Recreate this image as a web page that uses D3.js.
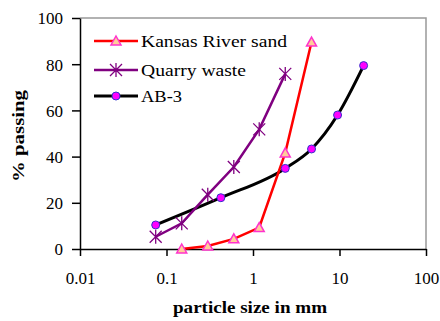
<!DOCTYPE html>
<html><head><meta charset="utf-8">
<script src="https://cdn.jsdelivr.net/npm/d3@7"></script>
<style>body{margin:0;background:#fff}svg{display:block}</style>
</head><body>
<svg id="c" width="440" height="321"></svg>
<script>
const xTicks = [0.01, 0.1, 1, 10, 100];
const xTickLabels = ["0.01", "0.1", "1", "10", "100"];
const yTicks = [0, 20, 40, 60, 80, 100];
const seriesNames = ["Kansas River sand", "Quarry waste", "AB-3"];
const sandSize = [0.15, 0.3, 0.6, 1.18, 2.36, 4.75];
const sandPass = [0, 1.3, 4.4, 9.3, 41.6, 89.6];
const quarrySize = [0.075, 0.15, 0.3, 0.6, 1.18, 2.36];
const quarryPass = [5.3, 11.1, 23.5, 35.5, 51.8, 75.8];
const ab3Size = [0.075, 0.425, 2.36, 4.75, 9.5, 19];
const ab3Pass = [10.4, 22.2, 34.9, 43.3, 58, 79.4];

const FONT = '"Liberation Serif"';
const svg = d3.select("#c");
const x = d3.scaleLog().domain([0.01, 100]).range([80, 426]);
const y = d3.scaleLinear().domain([0, 100]).range([249, 18]);

svg.append("path").attr("d", `M${x(0.01)},${y(100)}H${x(100)}V${y(0)}`)
  .attr("fill","none").attr("stroke","#999").attr("stroke-width",1.5);

const xAxis = svg.append("g").attr("transform",`translate(0,${y(0)})`)
  .call(d3.axisBottom(x).tickValues(xTicks).tickFormat((d,i)=>xTickLabels[i]).tickSize(7).tickSizeOuter(0));
const yAxis = svg.append("g").attr("transform",`translate(${x(0.01)},0)`)
  .call(d3.axisLeft(y).tickValues(yTicks).tickSize(8).tickSizeOuter(0));
[xAxis,yAxis].forEach(a=>{
  a.attr("font-family",null);
  a.select(".domain").attr("stroke","#000").attr("stroke-width",1.5);
  a.selectAll(".tick line").attr("stroke","#000").attr("stroke-width",1.5);
  a.selectAll("text").style("font-family",FONT).style("font-size","17px").attr("fill","#000");
});
xAxis.selectAll("text").attr("dy","0").attr("y",35);
yAxis.selectAll("text").attr("x",-17).attr("dy","0.35em");

svg.append("text").attr("x",250).attr("y",313).attr("text-anchor","middle")
  .style("font-family",FONT).style("font-weight","bold").style("font-size","16px")
  .attr("textLength",154).attr("lengthAdjust","spacingAndGlyphs").text("particle size in mm");
svg.append("text").attr("transform","translate(24,136) rotate(-90)").attr("text-anchor","middle")
  .style("font-family",FONT).style("font-weight","bold").style("font-size","16px")
  .attr("textLength",92).attr("lengthAdjust","spacingAndGlyphs").text("% passing");

const line = d3.line().x(d=>x(d[0])).y(d=>y(d[1]));
const smooth = d3.line().x(d=>x(d[0])).y(d=>y(d[1])).curve(d3.curveMonotoneX);
const sand = d3.zip(sandSize, sandPass);
const quarry = d3.zip(quarrySize, quarryPass);
const ab3 = d3.zip(ab3Size, ab3Pass);

svg.append("path").datum(ab3).attr("d",smooth).attr("fill","none").attr("stroke","#000").attr("stroke-width",3);
svg.append("path").datum(quarry).attr("d",line).attr("fill","none").attr("stroke","#800080").attr("stroke-width",2.5);
svg.append("path").datum(sand).attr("d",line).attr("fill","none").attr("stroke","#ff0000").attr("stroke-width",2.5);

function tri(g, cx, cy){
  g.append("path").attr("d",`M${cx},${cy-5}L${cx+5},${cy+4}L${cx-5},${cy+4}Z`)
   .attr("fill","#ffcc99").attr("stroke","#ff33cc").attr("stroke-width",1.5);
}
function star(g, cx, cy){
  const r=6;
  g.append("path").attr("d",`M${cx-r},${cy-r}L${cx+r},${cy+r}M${cx-r},${cy+r}L${cx+r},${cy-r}M${cx},${cy-r-1}V${cy+r+1}`)
   .attr("stroke","#800080").attr("stroke-width",1.3);
}
function dot(g, cx, cy){
  g.append("circle").attr("cx",cx).attr("cy",cy).attr("r",4)
   .attr("fill","#ff00ff").attr("stroke","#3333cc").attr("stroke-width",1);
}
const mk = svg.append("g");
ab3.forEach(d=>dot(mk,x(d[0]),y(d[1])));
quarry.forEach(d=>star(mk,x(d[0]),y(d[1])));
sand.forEach(d=>tri(mk,x(d[0]),y(d[1])));

const lg = svg.append("g");
const colors = ["#ff0000","#800080","#000"];
const markers = [tri, star, dot];
const rowsY = [41, 70, 96];
const labelW = [146, 105, 41];
seriesNames.forEach((n,i)=>{
  lg.append("line").attr("x1",94).attr("x2",138).attr("y1",rowsY[i]).attr("y2",rowsY[i])
    .attr("stroke",colors[i]).attr("stroke-width",i==2?3:2.5);
  markers[i](lg,116,rowsY[i]);
  lg.append("text").attr("x",141).attr("y",rowsY[i]).attr("dy","0.35em")
    .style("font-family",FONT).style("font-size","16px")
    .attr("textLength",labelW[i]).attr("lengthAdjust","spacingAndGlyphs").text(n);
});
</script>
</body></html>
